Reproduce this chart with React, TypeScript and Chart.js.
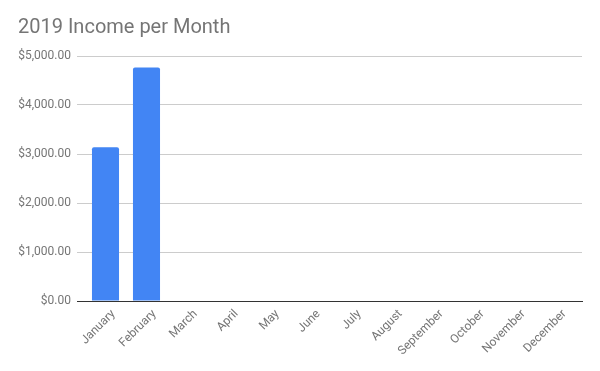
import React, { useEffect, useRef } from "react";
import { Chart, registerables } from "chart.js";

Chart.register(...registerables);

const TITLE = "2019 Income per Month";
const months = [
  "January", "February", "March", "April", "May", "June",
  "July", "August", "September", "October", "November", "December",
];
const income: (number | null)[] = [3140, 4765, null, null, null, null, null, null, null, null, null, null];
const yTicks = [0, 1000, 2000, 3000, 4000, 5000];

const fmt = (v: number) =>
  "$" + v.toFixed(2).replace(/\B(?=(\d{3})+(?!\d))/g, ",");

export default function App() {
  const ref = useRef<HTMLCanvasElement | null>(null);
  useEffect(() => {
    document.body.style.margin = "0";
    const ctx = ref.current;
    if (!ctx) return;
    const gray = "#757575";
    const chart = new Chart(ctx, {
      type: "bar",
      data: {
        datasets: [
          {
            data: months.map((_, i) => ({ x: i, y: income[i] })) as any,
            backgroundColor: "#4285F4",
            borderRadius: 2,
            borderSkipped: "bottom",
            barPercentage: 0.66,
            categoryPercentage: 1,
          },
        ],
      },
      options: {
        animation: false,
        responsive: true,
        maintainAspectRatio: false,
        layout: { padding: { left: 18, right: 18, top: 0, bottom: 0 } },
        plugins: {
          legend: { display: false },
          tooltip: { enabled: false },
          title: {
            display: true,
            text: TITLE,
            align: "start",
            color: gray,
            font: { family: "Roboto", size: 20, weight: "normal", lineHeight: 1.2 },
            padding: { top: 16, bottom: 16 },
          },
        },
        scales: {
          x: {
            type: "linear",
            offset: false,
            min: -0.695,
            max: 11.622,
            grid: { display: true, offset: false, drawOnChartArea: false, drawTicks: false },
            border: { display: true, color: "#333333", width: 1 },
            ticks: {
              stepSize: 1,
              includeBounds: false,
              autoSkip: false,
              maxRotation: 45,
              minRotation: 45,
              color: gray,
              font: { family: "Roboto", size: 12 },
              padding: 6,
              labelOffset: 8,
              callback: (v: any) => months[v as number] ?? "",
            },
            afterFit: (s: any) => {
              s.height = 70;
            },
          },
          y: {
            min: 0,
            max: 5000,
            grid: {
              color: (c: any) => (c.tick && c.tick.value === 0 ? "rgba(0,0,0,0)" : "#cccccc"),
              drawTicks: false,
            },
            border: { display: false },
            afterBuildTicks: (s: any) => {
              s.ticks = yTicks.map((v) => ({ value: v }));
            },
            ticks: {
              color: gray,
              font: { family: "Roboto", size: 12 },
              padding: 6,
              callback: (v: any) => fmt(Number(v)),
            },
            afterFit: (s: any) => {
              s.width = 59;
            },
          },
        },
      },
    });
    return () => chart.destroy();
  }, []);
  return (
    <div style={{ width: 600, height: 371, position: "relative" }}>
      <canvas ref={ref} />
    </div>
  );
}
